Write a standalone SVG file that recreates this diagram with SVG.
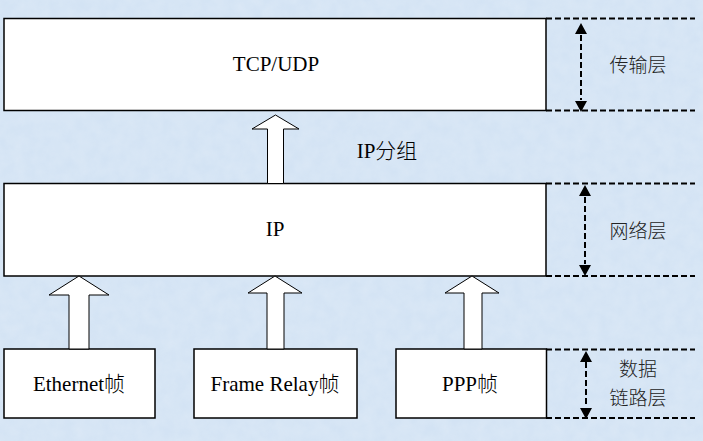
<svg xmlns="http://www.w3.org/2000/svg" width="703" height="441" viewBox="0 0 703 441">
<defs>
<style>
.box{fill:#fff;stroke:#000;stroke-width:1.5}
.blk{fill:#fff;stroke:#000;stroke-width:1}
.dash{stroke:#000;stroke-width:2;stroke-dasharray:6 3;fill:none}
.t{font-family:'Liberation Serif','Times New Roman',Times,'DejaVu Serif',serif;font-size:21px;fill:#000;text-anchor:middle}
.c{font-family:'Noto Sans CJK SC',sans-serif;font-size:19px;fill:#222;text-anchor:middle;font-weight:300}
</style>
<filter id="tex" x="0" y="0" width="100%" height="100%">
<feTurbulence type="fractalNoise" baseFrequency="0.08" numOctaves="3" seed="4" result="n"/>
<feColorMatrix in="n" type="matrix" values="0 0 0 0 1  0 0 0 0 1  0 0 0 0 1  0 0 0 0.35 -0.05"/>
</filter>
</defs>
<rect width="703" height="441" fill="#d3e3f4"/>
<rect width="703" height="441" filter="url(#tex)" opacity="0.6"/>

<g id="tcp">
<rect class="box" x="4" y="18.5" width="542" height="92"/>
<text class="t" x="276" y="71">TCP/UDP</text>
</g>
<g id="ip">
<rect class="box" x="4" y="183.5" width="542" height="92.5"/>
<text class="t" x="275" y="236">IP</text>
</g>
<g id="ethernet">
<rect class="box" x="4" y="349" width="151" height="69"/>
<text class="t" x="79" y="391">Ethernet<tspan font-family="'Noto Sans CJK SC',sans-serif" font-weight="300">帧</tspan></text>
</g>
<g id="framerelay">
<rect class="box" x="194" y="349" width="163" height="69"/>
<text class="t" x="275" y="391">Frame Relay<tspan font-family="'Noto Sans CJK SC',sans-serif" font-weight="300">帧</tspan></text>
</g>
<g id="ppp">
<rect class="box" x="396" y="349" width="150.5" height="69"/>
<text class="t" x="470" y="391">PPP<tspan font-family="'Noto Sans CJK SC',sans-serif" font-weight="300">帧</tspan></text>
</g>
<g id="label-ipgroup">
<text class="t" x="387" y="158">IP<tspan font-family="'Noto Sans CJK SC',sans-serif" font-weight="300">分组</tspan></text>
</g>
<g id="label-transport"><text class="c" x="638" y="72">传输层</text></g>
<g id="label-network"><text class="c" x="638" y="238">网络层</text></g>
<g id="label-datalink">
<text class="c" x="638" y="376">数据</text>
<text class="c" x="638" y="405">链路层</text>
</g>

<g id="connectors">
<polygon class="blk" points="267.5,183.5 267.5,129 252,129 275.5,115 299,129 283.5,129 283.5,183.5"/>
<polygon class="blk" points="69,349 69,295 49,295 79,276 109,295 89,295 89,349"/>
<polygon class="blk" points="267,349 267,293 248,293 275,276 302,293 284,293 284,349"/>
<polygon class="blk" points="464,349 464,293 445,293 472,276 499,293 482,293 482,349"/>

<path class="dash" d="M546,18.5H695 M546,110.5H695 M546,183.5H695 M546,276H695 M546,349.5H695 M546,418H695"/>
<path class="dash" d="M581,35V100" />
<path d="M581,23 L575,34 L587,34 Z M581,112 L575,101 L587,101 Z" fill="#000"/>
<path class="dash" d="M585,197V264" />
<path d="M585,185 L579,196 L591,196 Z M585,276 L579,265 L591,265 Z" fill="#000"/>
<path class="dash" d="M586,362V407" />
<path d="M586,351 L580,362 L592,362 Z M586,419 L580,408 L592,408 Z" fill="#000"/>
</g>
</svg>
